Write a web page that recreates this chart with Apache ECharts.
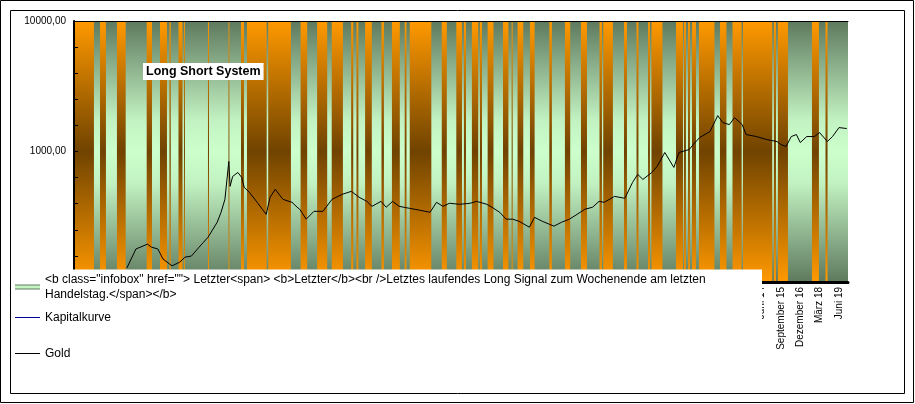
<!DOCTYPE html>
<html><head><meta charset="utf-8">
<script src="https://cdn.jsdelivr.net/npm/echarts@6/dist/echarts.min.js"></script>
<style>html,body{margin:0;padding:0;background:#fff}#c{width:915px;height:404px}</style>
</head><body><div id="c"></div>
<script>
// ---- data ----
const goldDates = ['1973-06','1974-01','1974-10','1975-01','1975-06','1975-10','1976-05','1976-11','1977-03','1977-08','1978-02','1978-09','1979-04','1979-07','1979-10','1980-01','1980-02','1980-04','1980-08','1980-11','1981-01','1981-05','1981-11','1982-03','1982-06','1982-09','1983-01','1983-07','1984-02','1984-06','1984-08','1985-01','1985-07','1986-02','1986-09','1987-05','1987-12','1988-06','1988-12','1989-04','1989-11','1990-03','1990-08','1991-01','1991-09','1992-05','1993-01','1993-06','1993-11','1994-04','1994-12','1995-08','1996-01','1996-09','1997-01','1997-07','1997-12','1998-05','1998-10','1999-06','1999-10','2000-04','2001-01','2001-07','2002-01','2002-07','2003-01','2003-07','2003-12','2004-04','2004-12','2005-08','2006-02','2006-06','2006-10','2007-05','2007-09','2008-03','2008-10','2009-02','2009-10','2010-01','2010-06','2011-02','2011-08','2011-12','2012-05','2012-09','2013-03','2013-06','2014-02','2014-10','2015-06','2015-09','2016-01','2016-05','2016-09','2016-12','2017-05','2017-11','2018-03','2018-09','2019-01','2019-06','2019-12'];
const goldValues = [128,179,195,185,179,150,133,142,155,158,185,221,287,342,430,839,541,644,691,633,531,486,408,361,330,446,513,430,408,374,361,303,348,348,430,470,495,446,415,380,415,374,415,380,367,355,342,408,380,401,394,401,415,394,374,342,303,303,292,263,313,292,268,287,303,330,361,374,415,408,453,438,580,668,611,691,768,983,755,983,1036,1130,1279,1422,1883,1665,1607,1818,1607,1349,1302,1235,1192,1130,1092,1302,1349,1171,1302,1302,1396,1192,1302,1525,1500];
const kapitalkurveDates = [];
const kapitalkurveValues = [];
const longStart = ['1970-01-01','1971-09-06','1972-10-10','1974-09-12','1975-07-21','1976-03-01','1976-10-01','1977-02-09','1978-08-27','1979-12-24','1980-10-15','1981-03-04','1982-07-18','1984-08-21','1985-09-15','1986-08-25','1987-11-27','1988-04-01','1988-10-21','1989-11-12','1990-07-15','1991-05-12','1991-09-09','1993-10-04','1994-09-12','1995-03-09','1995-09-15','1996-03-21','1996-09-21','1997-09-18','1998-04-09','1998-08-27','1999-06-15','2000-09-15','2001-09-18','2002-10-01','2003-12-12','2004-03-09','2005-07-12','2006-05-03','2007-02-01','2007-04-21','2008-11-21','2009-05-27','2009-09-01','2009-12-03','2010-05-15','2011-09-24','2012-07-15','2013-03-18','2015-03-18','2015-06-21','2017-09-03','2018-07-18'];
const longEnd = ['1971-04-15','1972-01-24','1973-05-03','1975-01-15','1976-01-03','1976-04-01','1977-01-04','1977-03-01','1978-09-21','1980-01-15','1980-12-24','1982-06-12','1984-01-06','1985-01-24','1986-05-09','1987-05-15','1988-01-15','1988-05-15','1989-03-27','1990-01-09','1991-01-18','1991-06-24','1993-02-01','1994-02-01','1995-01-24','1995-04-27','1996-02-12','1996-05-09','1997-02-06','1998-01-24','1998-05-03','1999-01-09','1999-10-03','2000-11-15','2002-01-21','2003-02-21','2004-02-09','2004-10-24','2005-09-21','2006-06-18','2007-03-15','2008-01-06','2009-05-03','2009-07-12','2009-10-15','2010-03-06','2011-05-15','2012-02-24','2013-02-18','2015-02-09','2015-05-06','2016-02-15','2018-02-15','2018-09-06'];
const xTickDates = ['2014-06','2015-09','2016-12','2018-03','2019-06'];
const xTickLabels = ['Juni 14','September 15','Dezember 16','März 18','Juni 19'];
const xStartDate = '1970-01';
const xEndDate = '2020-01';
const infoName = '<b class="infobox" href=""> Letzter<span> <b>Letzter</b><br />Letztes laufendes Long Signal zum Wochenende am letzten Handelstag.</span></b>';

// ---- helpers ----
function toMonth(s){const p=s.split('-').map(Number);return (p[0]-1970)*12+(p[1]-1)+(p.length>2?(p[2]-1)/30.44:0);}
const FONT = 'Liberation Sans, Arial, sans-serif';
const xMin = toMonth(xStartDate), xMax = toMonth(xEndDate);
const xTickVals = xTickDates.map(toMonth);
const goldData = goldDates.map((d,i)=>[toMonth(d), goldValues[i]]);
const kapData = kapitalkurveDates.map((d,i)=>[toMonth(d), kapitalkurveValues[i]]);
const bandData = longStart.map((s,i)=>[toMonth(s), toMonth(longEnd[i]), 1]);

const greenGrad = {type:'linear',x:0,y:0,x2:0,y2:1,colorStops:[
  {offset:0,color:'#5e795e'},{offset:0.38,color:'#c2f2c2'},{offset:0.5,color:'#ccffcc'},
  {offset:0.62,color:'#c2f2c2'},{offset:1,color:'#5e795e'}]};
const orangeGrad = {type:'linear',x:0,y:0,x2:0,y2:1,colorStops:[
  {offset:0,color:'#ff9900'},{offset:0.5,color:'#704300'},{offset:1,color:'#ff9900'}]};

function bandRender(fill){
  return function(params, api){
    const a = api.coord([api.value(0), 1]);
    const b = api.coord([api.value(1), 0]);
    return {type:'rect', shape:{x:a[0], y:a[1], width:Math.max(b[0]-a[0],0.8), height:b[1]-a[1]}, style:{fill:fill}};
  };
}

const chart = echarts.init(document.getElementById('c'), null, {renderer:'canvas'});
chart.setOption({
  animation:false,
  backgroundColor:'#fff',
  title:{text:'Long Short System', left:143, top:63, backgroundColor:'#fff', padding:[2,3,2,3],
    textStyle:{fontSize:12.5, fontWeight:'bold', color:'#000', fontFamily:FONT, lineHeight:13}, z:20},
  grid:{left:74, top:21, width:774, height:261, outerBoundsMode:'none', containLabel:false},
  xAxis:[
    {type:'value', min:xMin, max:xMax, z:5,
     axisLine:{show:true, lineStyle:{color:'#000', width:3}},
     axisTick:{show:false}, splitLine:{show:false},
     axisLabel:{customValues:xTickVals, rotate:90, fontSize:10, color:'#000', fontFamily:FONT, margin:5,
       formatter:function(v){const i=xTickVals.findIndex(t=>Math.abs(t-v)<0.01);return i>=0?xTickLabels[i]:'';}}},
    {type:'value', position:'top', min:xMin, max:xMax, z:5,
     axisLine:{show:true, lineStyle:{color:'#000', width:1}},
     axisTick:{show:false}, axisLabel:{show:false}, splitLine:{show:false}}
  ],
  yAxis:[
    {type:'log', logBase:10, min:100, max:10000, z:5,
     axisLine:{show:true, lineStyle:{color:'#000', width:1}},
     axisTick:{show:false}, splitLine:{show:false},
     axisLabel:{fontSize:10, color:'#000', fontFamily:FONT, margin:8,
       formatter:function(v){return v.toFixed(2).replace('.',',');}}},
    {type:'value', position:'right', min:0, max:1, interval:0.1, z:5,
     axisLine:{show:true, lineStyle:{color:'#000', width:2}},
     axisTick:{show:true, inside:false, length:4, lineStyle:{color:'#000', width:1}},
     axisLabel:{show:false}, splitLine:{show:false}}
  ],
  legend:[
    {data:[infoName], left:15, top:273.5, orient:'vertical', padding:0, itemGap:0, itemWidth:25, itemHeight:5, icon:'rect', z:20,
     selectedMode:false, textStyle:{fontSize:12, color:'#000', fontFamily:FONT, width:720, overflow:'break', lineHeight:15, height:15}},
    {data:['Kapitalkurve'], left:15, top:310, orient:'vertical', padding:0, itemWidth:25, itemHeight:1, icon:'rect', z:20,
     selectedMode:false, textStyle:{fontSize:12, color:'#000', fontFamily:FONT, lineHeight:15}},
    {data:['Gold'], left:15, top:346, orient:'vertical', padding:0, itemWidth:25, itemHeight:1, icon:'rect', z:20,
     selectedMode:false, textStyle:{fontSize:12, color:'#000', fontFamily:FONT, lineHeight:15}}
  ],
  graphic:{elements:[
    {type:'rect', z:10, silent:true, shape:{x:11, y:269.5, width:751, height:124}, style:{fill:'#fff'}},
    {type:'rect', z:30, silent:true, shape:{x:0.5, y:0.5, width:913, height:402}, style:{fill:'none', stroke:'#000', lineWidth:1}},
    {type:'rect', z:30, silent:true, shape:{x:10.5, y:10.5, width:894, height:383}, style:{fill:'none', stroke:'#000', lineWidth:1}}
  ]},
  series:[
    {name:infoName, type:'custom', xAxisIndex:0, yAxisIndex:1, z:1, silent:true, clip:true,
     itemStyle:{color:greenGrad}, encode:{x:[0,1], y:2},
     data:[[xMin, xMax, 1]], renderItem:bandRender(greenGrad)},
    {name:'Long', type:'custom', xAxisIndex:0, yAxisIndex:1, z:2, silent:true, clip:true,
     itemStyle:{color:orangeGrad}, encode:{x:[0,1], y:2},
     data:bandData, renderItem:bandRender(orangeGrad)},
    {name:'Kapitalkurve', type:'line', xAxisIndex:0, yAxisIndex:0, z:3, showSymbol:false,
     itemStyle:{color:'#000099'}, lineStyle:{color:'#000099', width:1}, data:kapData},
    {name:'Gold', type:'line', xAxisIndex:0, yAxisIndex:0, z:3, showSymbol:false, clip:true,
     itemStyle:{color:'#000'}, lineStyle:{color:'#000', width:1}, data:goldData}
  ]
});
</script></body></html>
